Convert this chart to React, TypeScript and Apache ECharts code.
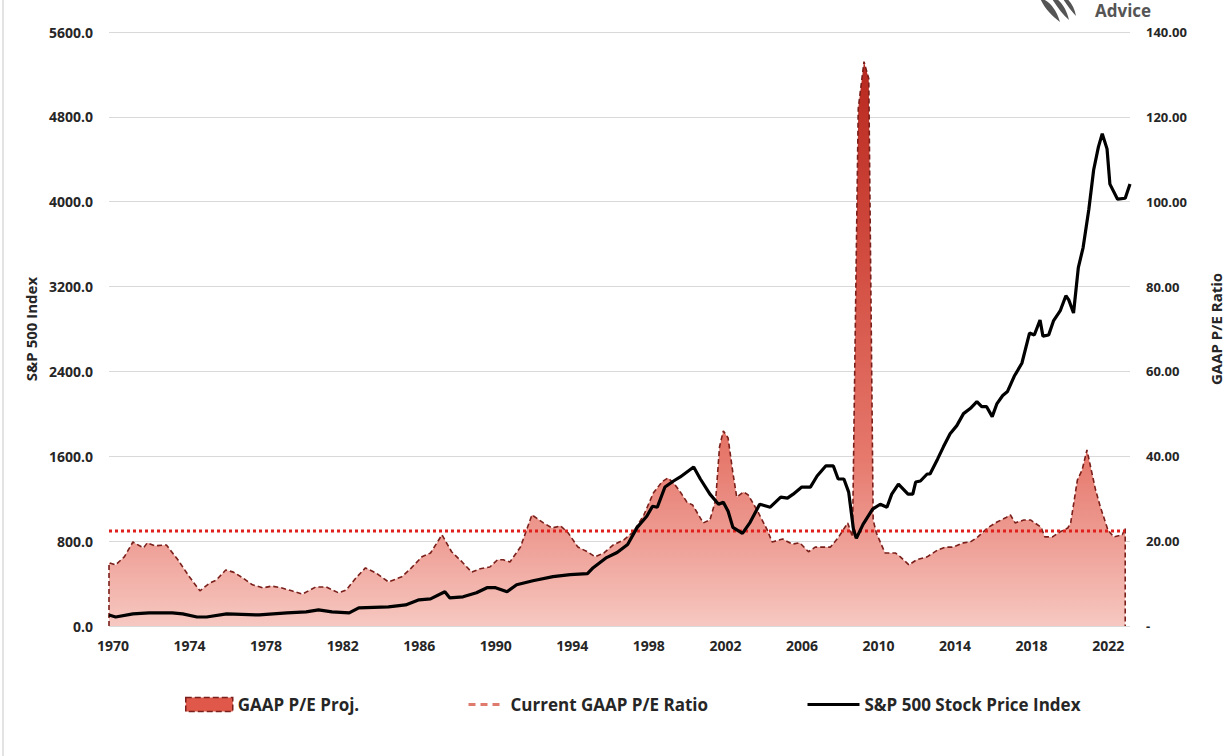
import React, { useEffect, useRef } from "react";
import * as echarts from "echarts";

const START_YEAR = 1970;

// GAAP P/E (years since 1970, ratio)
const peYears = [
  0, 0, 0.35, 0.8, 1.25, 1.8, 2.0, 2.4, 3.0, 3.6, 4.2, 4.75, 5.25, 5.6, 6.1, 6.5, 7.0, 7.5, 8.05, 8.5,
  9.0, 9.55, 10.1, 10.8, 11.35, 12.0, 12.4, 12.9, 13.4, 13.95, 14.6, 15.3, 15.8, 16.35, 16.8, 17.4,
  17.9, 18.45, 18.95, 19.4, 19.9, 20.3, 20.6, 20.95, 21.5, 22.1, 22.7, 23.15, 23.6, 24.0, 24.5, 25.0,
  25.4, 25.85, 26.35, 26.9, 27.4, 27.95, 28.45, 28.9, 29.2, 29.5, 29.85, 30.2, 30.5, 31.05, 31.4, 31.7,
  31.9, 32.1, 32.35, 32.6, 32.8, 33.15, 33.4, 33.85, 34.4, 34.65, 35.2, 35.7, 36.1, 36.55, 36.9, 37.7,
  38.1, 38.6, 38.85, 39.15, 39.45, 39.7, 39.93, 40.1, 40.55, 41.1, 41.35, 41.8, 42.2, 42.75, 43.3, 43.7,
  44.1, 44.65, 45.0, 45.4, 45.9, 46.4, 46.85, 47.1, 47.35, 47.8, 48.15, 48.7, 48.9, 49.3, 49.7, 50.1,
  50.25, 50.6, 50.85, 51.1, 51.55, 51.8, 52.2, 52.5, 52.95, 53.1, 53.1,
];
const peValues = [
  0, 14.9, 14.4, 16.3, 19.8, 18.4, 19.6, 18.9, 19.1, 15.6, 11.6, 8.3, 10.1, 10.8, 13.2, 12.7, 11.3, 9.7, 9.0, 9.4,
  9.0, 8.3, 7.5, 9.2, 9.2, 7.8, 8.5, 11.3, 13.7, 12.5, 10.4, 11.6, 13.7, 16.3, 17.2, 21.5,
  17.5, 15.1, 12.7, 13.5, 13.9, 15.6, 15.6, 15.1, 18.6, 26.2, 24.3, 23.1, 23.6, 21.9, 18.6, 17.5,
  16.3, 17.2, 19.1, 20.3, 22.2, 26.2, 31.4, 34.0, 34.9, 33.7, 31.6, 29.2, 28.5, 24.3, 25.0, 29.7,
  42.2, 46.0, 44.3, 36.1, 30.4, 31.6, 30.9, 27.4, 22.6, 19.8, 20.5, 19.3, 19.6, 17.5, 18.6, 18.6,
  20.8, 24.3, 21.0, 122, 133, 129, 25, 21.9, 17.2, 17.2, 16.3, 14.4, 15.6, 16.3, 17.9, 18.6,
  18.6, 19.6, 19.8, 21.0, 23.1, 24.5, 25.5, 26.2, 24.3, 25.0, 25.0, 23.3, 21.0, 21.0, 22.2, 23.1,
  24.3, 34.4, 36.8, 41.5, 32.1, 28.1, 22.6, 21.0, 21.5, 23.1, 0,
];

// S&P 500 index (years since 1970, index level)
const spxYears = [
  0, 0.35, 1.25, 2.1, 3.3, 3.85, 4.6, 5.1, 6.15, 7.85, 9.3, 10.3, 10.95, 11.65, 12.55, 13.05, 14.6, 15.5,
  16.2, 16.8, 17.55, 17.8, 18.5, 19.2, 19.75, 20.2, 20.8, 21.3, 22.15, 23.2, 24.1, 25.0, 25.3, 26.0,
  26.55, 27.1, 27.6, 28.1, 28.4, 28.65, 29.05, 29.5, 29.85, 30.55, 30.9, 31.4, 31.85, 32.1, 32.35, 32.6,
  33.1, 33.5, 34.0, 34.55, 35.1, 35.45, 35.75, 36.2, 36.65, 37.0, 37.45, 37.85, 38.1, 38.4, 38.65, 38.9,
  39.05, 39.4, 39.9, 40.3, 40.65, 40.9, 41.25, 41.5, 41.75, 42.0, 42.15, 42.4, 42.75, 42.9, 43.3, 43.6,
  43.95, 44.3, 44.65, 45.0, 45.35, 45.6, 45.85, 46.15, 46.4, 46.7, 46.95, 47.3, 47.7, 48.1, 48.35, 48.65,
  48.8, 49.1, 49.35, 49.7, 50.0, 50.15, 50.4, 50.65, 50.9, 51.2, 51.45, 51.7, 51.9, 52.15, 52.3, 52.7,
  53.1, 53.35,
];
const spxValues = [
  104, 85, 114, 123, 123, 114, 85, 85, 114, 104, 123, 133, 152, 133, 123, 171, 180, 199,
  247, 256, 323, 266, 275, 313, 361, 361, 323, 389, 427, 465, 484, 494, 550, 645,
  693, 769, 930, 1034, 1129, 1120, 1310, 1367, 1405, 1499, 1386, 1243, 1148, 1167, 1082, 930,
  873, 977, 1148, 1120, 1215, 1205, 1243, 1310, 1310, 1414, 1509, 1509, 1386, 1386, 1262, 911,
  826, 958, 1101, 1148, 1120, 1243, 1338, 1291, 1243, 1243, 1357, 1367, 1433, 1433, 1575, 1689,
  1813, 1889, 2002, 2050, 2116, 2069, 2069, 1974, 2097, 2173, 2211, 2354, 2477, 2762, 2743, 2885,
  2733, 2743, 2876, 2970, 3113, 3075, 2951, 3378, 3568, 3929, 4299, 4517, 4641, 4498, 4166, 4024,
  4033, 4166,
];

const currentPE = 22.4;
const currentPEYears = [0, 53.1];

const names = ["GAAP P/E Proj.", "Current GAAP P/E Ratio", "S&P 500 Stock Price Index"];

const FONT = "'Open Sans', 'Liberation Sans', sans-serif";

echarts.graphic.registerShape(
  "logo",
  echarts.graphic.extendPath(
    "M0,-4 C8,-2 16,6 20,20 C12,14 4,6 0,-4 Z M9,-8 C18,-4 26,4 29,18 C22,12 15,2 9,-8 Z M18,-10 C26,-6 34,2 36,14 C30,8 24,-2 18,-10 Z",
    {}
  )
);

export default function App() {
  const ref = useRef<HTMLDivElement>(null);
  useEffect(() => {
    const chart = echarts.init(ref.current!, null, { renderer: "svg" });
    const peData = peYears.map((x, i) => [x, peValues[i]]);
    const spxData = spxYears.map((x, i) => [x, spxValues[i]]);
    const curData = currentPEYears.map((x) => [x, currentPE]);

    const legendText = { color: "#262626", fontFamily: FONT, fontWeight: "bold", fontSize: 17 };

    const option: any = {
      animation: false,
      backgroundColor: "#ffffff",
      grid: { left: 109, right: 101, top: 32, bottom: 130, containLabel: false },
      xAxis: {
        type: "value",
        min: 0,
        max: 53.35,
        interval: 4,
        axisLine: { show: false },
        axisTick: { show: false },
        splitLine: { show: false },
        axisLabel: {
          margin: 12,
          color: "#262626",
          fontFamily: FONT,
          fontWeight: "bold",
          fontSize: 14,
          padding: [0, 0, 0, 8],
          formatter: (v: number) =>
            Math.abs(v - Math.round(v)) < 1e-6 && Math.round(v) % 4 === 0 ? String(START_YEAR + Math.round(v)) : "",
        },
      },
      yAxis: [
        {
          type: "value",
          min: 0,
          max: 5600,
          interval: 800,
          name: "S&P 500 Index",
          nameLocation: "middle",
          nameRotate: 90,
          nameGap: 70,
          nameTextStyle: { color: "#262626", fontFamily: FONT, fontWeight: "bold", fontSize: 15 },
          axisLine: { show: false },
          axisTick: { show: false },
          splitLine: { show: true, lineStyle: { color: "#d9d9d9", width: 1 } },
          axisLabel: {
            margin: 16,
            color: "#262626",
            fontFamily: FONT,
            fontWeight: "bold",
            fontSize: 14,
            formatter: (v: number) => v.toFixed(1),
          },
        },
        {
          type: "value",
          min: 0,
          max: 140,
          interval: 20,
          name: "GAAP P/E Ratio",
          nameLocation: "middle",
          nameRotate: 90,
          nameGap: 78,
          nameTextStyle: { color: "#262626", fontFamily: FONT, fontWeight: "bold", fontSize: 15 },
          axisLine: { show: false },
          axisTick: { show: false },
          splitLine: { show: false },
          axisLabel: {
            margin: 16,
            color: "#262626",
            fontFamily: FONT,
            fontWeight: "bold",
            fontSize: 13,
            formatter: (v: number) => (v === 0 ? "-" : v.toFixed(2)),
          },
        },
      ],
      legend: [
        {
          left: 185,
          top: 696,
          padding: 0,
          itemWidth: 47,
          itemHeight: 14,
          textStyle: legendText,
          data: [
            {
              name: names[0],
              icon: "rect",
              itemStyle: { color: "#e0584a", borderColor: "#7a1f1a", borderWidth: 1.5, borderType: "dashed" },
            },
          ],
        },
        {
          left: 467,
          top: 696,
          padding: 0,
          itemWidth: 34,
          itemHeight: 14,
          textStyle: { ...legendText, padding: [0, 0, 0, 3] },
          data: [
            {
              name: names[1],
              itemStyle: { opacity: 0 },
              lineStyle: { color: "#e07a6c", width: 3, type: [7, 5] },
            },
          ],
        },
        {
          left: 806,
          top: 696,
          padding: 0,
          itemWidth: 52,
          itemHeight: 14,
          textStyle: legendText,
          data: [
            {
              name: names[2],
              itemStyle: { opacity: 0 },
              lineStyle: { color: "#000000", width: 3 },
            },
          ],
        },
      ],
      series: [
        {
          name: names[0],
          type: "line",
          yAxisIndex: 1,
          data: peData,
          symbol: "none",
          z: 1,
          lineStyle: { color: "#7a1f1a", width: 1.6, type: [5, 3] },
          itemStyle: { color: "#e0584a" },
          areaStyle: {
            opacity: 1,
            color: new echarts.graphic.LinearGradient(0, 0, 0, 1, [
              { offset: 0, color: "#b8281f" },
              { offset: 0.35, color: "#d24c40" },
              { offset: 0.7, color: "#e6786c" },
              { offset: 0.85, color: "#ee9e95" },
              { offset: 1, color: "#f6c8c1" },
            ]),
          },
        },
        {
          name: names[1],
          type: "line",
          yAxisIndex: 1,
          data: curData,
          symbol: "none",
          z: 3,
          lineStyle: { color: "#e0201c", width: 3, type: [3, 3] },
          itemStyle: { color: "#e0201c" },
        },
        {
          name: names[2],
          type: "line",
          yAxisIndex: 0,
          data: spxData,
          symbol: "none",
          z: 4,
          lineStyle: { color: "#000000", width: 3.2 },
          itemStyle: { color: "#000000" },
        },
      ],
      graphic: [
        {
          type: "line",
          shape: { x1: 3, y1: 0, x2: 3, y2: 756 },
          style: { stroke: "#e3e3e3", lineWidth: 2 },
          silent: true,
        },
        {
          type: "logo",
          x: 1040,
          y: 2,
          scaleX: 1,
          scaleY: 1,
          style: { fill: "#555555" },
          silent: true,
        },
        {
          type: "text",
          x: 1095,
          y: 2,
          style: { text: "Advice", fill: "#555555", font: `bold 17px ${FONT}` },
          silent: true,
        },
      ],
    };
    chart.setOption(option);
    return () => chart.dispose();
  }, []);
  return (
    <div
      ref={ref}
      style={{ position: "fixed", left: 0, top: 0, width: 1231, height: 756, background: "#ffffff" }}
    />
  );
}
